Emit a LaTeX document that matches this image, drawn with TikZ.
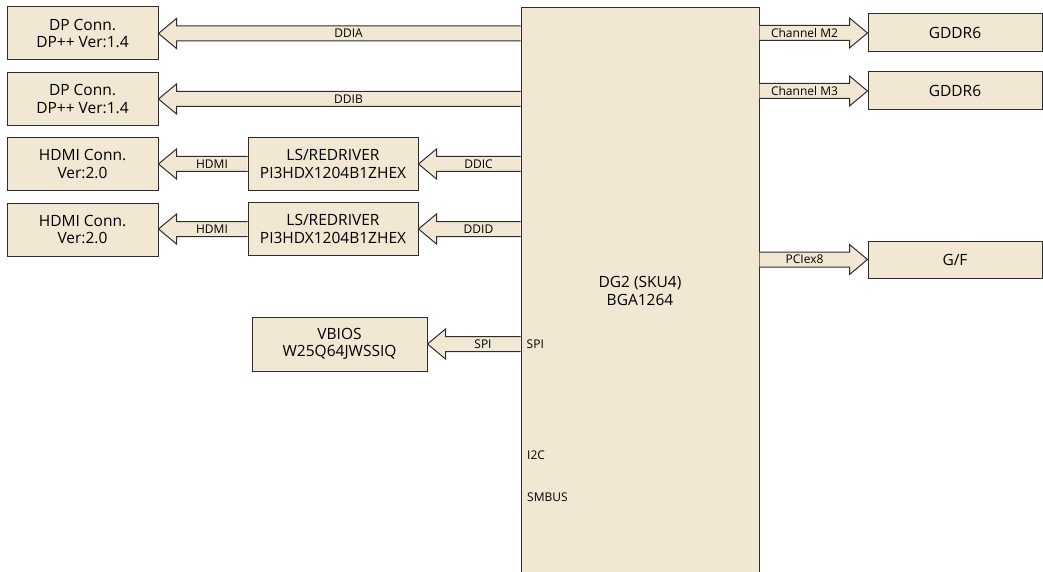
\documentclass[tikz,border=0pt]{standalone}
\usepackage{fontspec}
\setmainfont{Open Sans}
\usetikzlibrary{calc}
\definecolor{boxfill}{RGB}{242,231,210}
\definecolor{boxline}{RGB}{45,45,45}
\newcommand\busarrow[3]{%
	\filldraw[bus] let \p1=(#1), \p2=(#2), \n1={sign(\x2-\x1)} in
		(\x1,{\y1+7.5pt}) -- ({\x2-\n1*18pt},{\y1+7.5pt}) -- ({\x2-\n1*18pt},{\y1+15pt}) -- (\x2,\y1)
		-- ({\x2-\n1*18pt},{\y1-15pt}) -- ({\x2-\n1*18pt},{\y1-7.5pt}) -- (\x1,{\y1-7.5pt})
		node[buslabel] at ({(\x1+\x2-\n1*18pt)/2},\y1) {#3};
}
\begin{document}
\begin{tikzpicture}[x=1pt,y=-1pt,
		box/.style={draw=boxline,fill=boxfill,line width=1pt,align=center,inner sep=0pt,font=\fontsize{15.5}{17.5}\selectfont},
		bus/.style={draw=boxline,fill=boxfill,line width=1pt,line join=miter},
		buslabel/.style={inner sep=0pt,text=black,font=\fontsize{12}{13}\selectfont},
		pin/.style={buslabel,anchor=west}]
	\useasboundingbox (0,0) rectangle (1043,572);
	\node[box,minimum width=238pt,minimum height=566pt] (dg2) at (640,291) {DG2 (SKU4)\\BGA1264};
	\foreach \name/\y in {dpa/33.5, dpb/99} {
		\node[box,minimum width=151pt,minimum height=53pt] (\name) at (82.5,\y) {DP Conn.\\DP++ Ver:1.4};
	}
	\foreach \name/\y in {hdmia/164, hdmib/229.5} {
		\node[box,minimum width=151pt,minimum height=53pt] (\name) at (82.5,\y) {HDMI Conn.\\Ver:2.0};
	}
	\foreach \name/\y in {rda/164, rdb/229} {
		\node[box,minimum width=170pt,minimum height=53pt] (\name) at (333,\y) {LS/REDRIVER\\PI3HDX1204B1ZHEX};
	}
	\node[box,minimum width=175pt,minimum height=54pt] (vbios) at (339.5,344) {VBIOS\\W25Q64JWSSIQ};
	\node[box,minimum width=174pt,minimum height=38pt] (gda) at (955,33) {GDDR6};
	\node[box,minimum width=174pt,minimum height=38pt] (gdb) at (955,91) {GDDR6};
	\node[box,minimum width=174pt,minimum height=37pt] (gf) at (955,259.5) {G/F};
	\busarrow{dg2.west |- dpa}{dpa.east}{DDIA}
	\busarrow{dg2.west |- dpb}{dpb.east}{DDIB}
	\busarrow{dg2.west |- rda}{rda.east}{DDIC}
	\busarrow{dg2.west |- rdb}{rdb.east}{DDID}
	\busarrow{rda.west}{hdmia.east |- rda}{HDMI}
	\busarrow{rdb.west}{hdmib.east |- rdb}{HDMI}
	\busarrow{dg2.west |- vbios}{vbios.east}{SPI}
	\busarrow{dg2.east |- gda}{gda.west}{Channel M2}
	\busarrow{dg2.east |- gdb}{gdb.west}{Channel M3}
	\busarrow{dg2.east |- gf}{gf.west}{PCIex8}
	\node[pin] (spi) at ([xshift=6pt]dg2.west |- vbios) {SPI};
	\node[pin] (i2c) at (527,455) {I2C};
	\node[pin] (smbus) at (527,497) {SMBUS};
\end{tikzpicture}
\end{document}
